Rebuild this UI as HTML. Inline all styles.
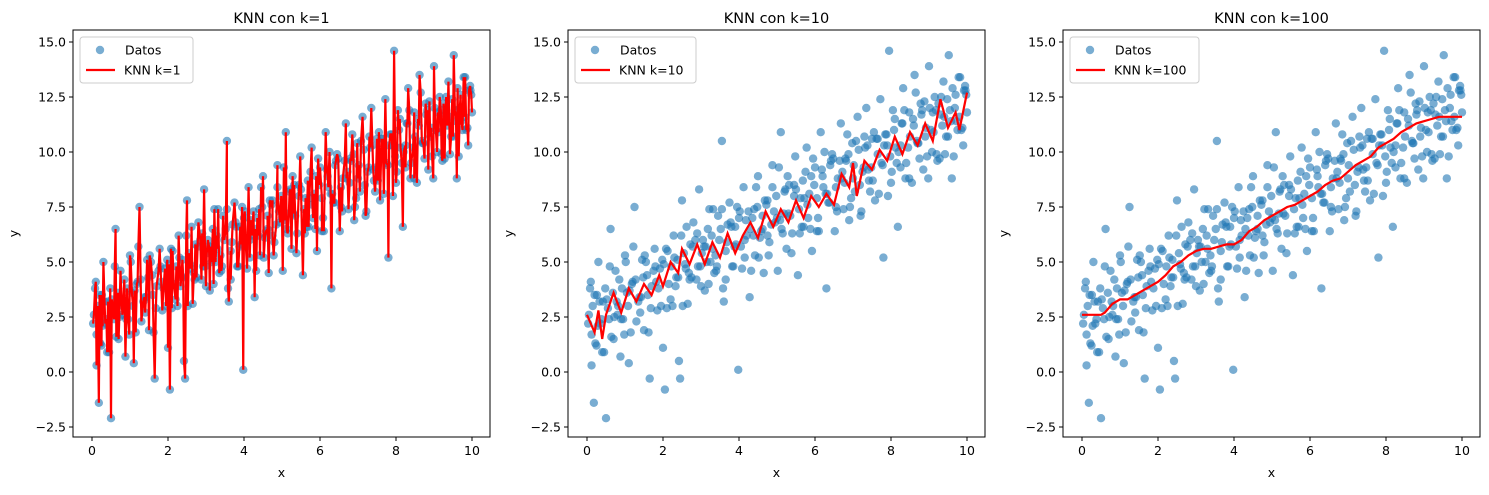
<!DOCTYPE html>
<html><head><meta charset="utf-8"><style>
body{margin:0;background:#fff}
svg text{font-family:"DejaVu Sans","Liberation Sans",sans-serif;fill:#000}
</style></head><body>
<svg id="chart" width="1489" height="490" xmlns="http://www.w3.org/2000/svg"></svg>
<script>
const xTicks=[0,2,4,6,8,10];
const yTicks=[-2.5,0,2.5,5,7.5,10,12.5,15];
const yTickLabels=["\u22122.5","0.0","2.5","5.0","7.5","10.0","12.5","15.0"];
const kValues=[1,10,100];
const dataX1=[0.05,0.1,0.12,0.18,0.2,0.25,0.3,0.35,0.4,0.48,0.5,0.55,0.62,0.7,0.75,0.82,0.88,0.95,1.0,1.05,1.1,1.18,1.25,1.3,1.38,1.45,1.5,1.58,1.65,1.7,1.78,1.85,1.92,2.0,2.05,2.12,2.2,2.28,2.35,2.42,2.45,2.5,2.58,2.65,2.72,2.8,2.88,2.95,3.02,3.1,3.18,3.25,3.32,3.4,3.48,3.55,3.6,3.68,3.75,3.82,3.9,3.98,4.05,4.12,4.2,4.28,4.35,4.42,4.5,4.58,4.65,4.72,4.8,4.88,4.95,5.02,5.1,5.18,5.25,5.32,5.4,5.48,5.55,5.62,5.7,5.78,5.85,5.92,6.0,6.08,6.15,6.22,6.3,6.38,6.45,6.52,6.6,6.68,6.75,6.82,6.9,6.98,7.05,7.12,7.2,7.28,7.35,7.42,7.5,7.58,7.65,7.72,7.8,7.88,7.95,8.02,8.1,8.18,8.25,8.32,8.4,8.48,8.55,8.62,8.7,8.78,8.85,8.92,9.0,9.08,9.15,9.22,9.3,9.38,9.45,9.52,9.6,9.68,9.75,9.82,9.9,9.98];
const dataY1=[2.6,4.1,0.3,-1.4,3.5,1.2,5.0,2.2,0.9,3.8,-2.1,2.9,6.5,1.5,4.6,3.0,0.7,2.4,5.3,3.6,0.4,4.0,7.5,2.3,3.4,5.1,1.9,4.4,-0.3,3.9,5.6,2.8,4.7,1.1,-0.8,5.5,3.3,6.2,4.3,0.5,-0.3,7.8,4.9,3.1,5.8,6.8,4.2,8.3,5.4,3.7,6.5,5.0,7.4,4.6,6.0,10.5,3.2,5.9,7.7,4.8,6.6,0.1,5.7,8.4,6.2,3.4,7.0,5.3,8.9,6.4,4.5,7.6,5.9,9.4,6.8,4.6,10.9,7.2,5.6,8.5,6.3,9.8,4.4,7.9,6.6,10.2,8.1,5.5,9.3,7.0,10.9,8.4,3.8,7.7,9.9,6.4,8.8,11.3,7.4,9.6,6.9,10.4,8.2,11.6,7.1,9.3,12.0,8.7,10.6,7.8,9.9,12.4,5.2,10.8,14.6,9.1,11.5,6.6,10.3,12.9,9.5,11.8,8.6,13.5,10.4,12.2,9.2,11.1,13.9,10.0,12.5,9.6,11.7,13.2,10.7,14.4,8.8,12.0,11.0,13.4,10.3,12.6];
const dataX2=[0.03,0.15,0.28,0.42,0.58,0.68,0.8,0.92,1.08,1.2,1.35,1.48,1.6,1.75,1.88,2.02,2.15,2.3,2.4,2.55,2.68,2.78,2.92,3.05,3.15,3.28,3.38,3.52,3.65,3.78,3.88,4.0,4.15,4.25,4.38,4.48,4.62,4.75,4.85,4.98,5.08,5.2,5.3,5.45,5.58,5.68,5.8,5.9,6.05,6.18,6.28,6.4,6.55,6.65,6.78,6.88,7.0,7.15,7.25,7.38,7.48,7.62,7.75,7.85,7.98,8.08,8.2,8.3,8.45,8.58,8.68,8.8,8.9,9.02,9.12,9.25,9.35,9.48,9.58,9.7,9.8,9.92,10.0];
const dataY2=[2.2,3.0,2.1,3.2,2.4,3.6,2.6,3.8,3.0,4.1,3.2,4.3,3.5,4.6,3.8,4.9,4.0,5.2,4.3,5.4,4.5,5.7,4.8,6.0,5.0,6.2,5.3,6.5,5.5,6.8,5.7,7.0,6.0,7.3,6.2,7.5,6.5,7.8,6.7,8.0,6.9,8.2,7.2,8.5,7.4,8.7,7.6,8.9,7.9,9.2,8.1,9.4,8.4,9.6,8.6,9.9,8.8,10.1,9.1,10.3,9.3,10.6,9.5,10.8,9.8,11.0,10.0,11.3,10.2,11.5,10.5,11.7,10.7,12.0,10.9,12.2,11.2,12.4,11.4,12.6,11.6,12.8,11.8];
const dataX3=[0.08,0.22,0.33,0.45,0.6,0.72,0.85,0.98,1.12,1.22,1.4,1.52,1.62,1.8,1.95,2.08,2.25,2.38,2.52,2.62,2.75,2.9,3.0,3.12,3.22,3.35,3.45,3.58,3.7,3.85,3.95,4.08,4.18,4.32,4.45,4.55,4.68,4.78,4.92,5.05,5.15,5.28,5.38,5.5,5.65,5.75,5.88,5.98,6.1,6.25,6.35,6.48,6.58,6.72,6.85,6.95,7.08,7.22,7.32,7.45,7.55,7.68,7.82,7.92,8.05,8.15,8.28,8.38,8.5,8.65,8.75,8.88,8.98,9.1,9.2,9.32,9.42,9.55,9.65,9.78,9.88,9.95];
const dataY3=[3.8,1.3,3.2,0.9,4.8,2.5,4.2,1.7,3.7,5.7,2.7,5.3,1.8,4.8,3.0,5.6,3.0,5.1,3.0,6.6,4.3,6.3,3.9,5.7,7.4,4.5,7.1,3.8,6.7,4.8,7.5,4.7,6.9,4.6,8.4,6.1,7.8,5.3,7.3,9.3,6.3,8.9,5.4,8.3,6.6,9.1,6.5,8.5,6.4,10.0,7.7,9.7,7.3,9.1,10.8,7.9,10.5,7.3,10.2,8.2,10.9,8.1,10.3,8.0,11.9,9.5,11.3,8.8,10.7,12.7,9.7,12.3,8.8,11.8,9.9,12.5,9.9,11.9,9.8,13.4,11.1,13.0];
const dataX4=[0.12,0.26,0.38,0.52,0.64,0.78,0.9,1.02,1.15,1.28,1.42,1.55,1.68,1.82,1.98,2.1,2.22,2.33,2.48,2.6,2.7,2.85,2.98,3.08,3.2,3.3,3.42,3.55,3.65,3.8,3.92,4.02,4.15,4.3,4.4,4.52,4.62,4.75,4.88,5.0,5.12,5.22,5.35,5.45,5.6,5.72,5.82,5.95,6.05,6.2,6.32,6.42,6.55,6.7,6.8,6.92,7.02,7.18,7.3,7.4,7.52,7.65,7.78,7.9,8.0,8.12,8.25,8.35,8.48,8.6,8.72,8.82,8.95,9.05,9.18,9.28,9.4,9.5,9.62,9.72,9.85,9.96];
const dataY4=[1.7,3.5,2.4,3.3,1.6,3.2,2.4,5.0,1.8,4.2,3.4,5.0,2.9,4.1,5.1,2.9,4.8,3.9,6.2,4.7,4.2,6.0,4.8,5.7,4.0,5.6,4.8,7.4,4.2,6.6,5.8,7.3,5.2,6.5,7.4,5.2,7.1,6.2,8.4,7.0,6.5,8.3,7.1,8.0,6.3,7.9,7.0,9.7,6.4,8.9,8.1,9.6,7.5,8.8,9.7,7.5,9.4,8.5,10.7,9.2,8.7,10.6,9.4,10.3,8.6,10.2,9.3,11.9,8.8,11.2,10.4,11.9,9.8,11.0,11.9,9.7,11.6,10.7,12.9,11.4,11.0,12.8];
const k10X=[0,0.2,0.3,0.4,0.5,0.7,0.9,1.1,1.3,1.5,1.7,1.9,2.0,2.2,2.4,2.5,2.7,2.9,3.1,3.3,3.5,3.7,3.9,4.1,4.3,4.5,4.7,4.9,5.1,5.3,5.5,5.7,5.9,6.1,6.3,6.5,6.7,6.9,7.0,7.1,7.3,7.5,7.7,7.9,8.1,8.3,8.5,8.7,8.9,9.1,9.3,9.5,9.7,9.8,10.0];
const k10Y=[2.6,1.8,2.8,1.5,2.6,3.6,2.7,3.8,3.2,4.0,3.5,4.4,3.9,5.0,4.5,5.6,4.9,5.8,4.9,5.9,5.2,6.3,5.4,6.2,6.8,6.1,7.3,6.6,7.4,6.8,7.8,7.0,8.0,7.5,8.1,7.6,9.0,8.4,9.5,8.0,9.6,9.2,10.1,9.6,10.7,9.9,10.9,10.3,11.3,10.5,12.4,11.1,11.8,11.0,12.7];
const k100X=[0,0.5,0.6,0.8,1.0,1.2,1.4,1.6,1.8,2.0,2.2,2.4,2.6,2.8,3.0,3.2,3.4,3.6,3.8,4.0,4.2,4.4,4.6,4.8,5.0,5.2,5.4,5.6,5.8,6.0,6.2,6.4,6.6,6.8,7.0,7.2,7.4,7.6,7.8,8.0,8.2,8.4,8.6,8.8,9.0,9.2,9.4,9.6,10.0];
const k100Y=[2.6,2.6,2.7,3.1,3.3,3.3,3.5,3.7,3.9,4.1,4.4,4.8,5.0,5.3,5.5,5.6,5.6,5.7,5.8,5.8,6.0,6.4,6.6,6.9,7.1,7.3,7.5,7.6,7.8,8.0,8.2,8.5,8.7,8.8,9.1,9.4,9.6,9.8,10.2,10.4,10.6,10.9,11.1,11.3,11.4,11.5,11.6,11.6,11.6];

const NS="http://www.w3.org/2000/svg";
const svg=document.getElementById('chart');
function mk(tag,attrs,parent){const e=document.createElementNS(NS,tag);for(const k in attrs)e.setAttribute(k,attrs[k]);(parent||svg).appendChild(e);return e;}
const allX=dataX1.concat(dataX2,dataX3,dataX4), allY=dataY1.concat(dataY2,dataY3,dataY4);
const order=allX.map((v,i)=>i).sort((a,b)=>allX[a]-allX[b]);
const k1X=order.map(i=>allX[i]), k1Y=order.map(i=>allY[i]);
const lines=[[k1X,k1Y],[k10X,k10Y],[k100X,k100Y]];
const legW=[113,121,129];

kValues.forEach((k,p)=>{
  const off=p*495, L=73+off, R=490+off, T=30, B=437;
  const sx=v=>92+off+v*38, sy=v=>372-v*22;
  const g=mk('g',{});
  
  
  const t=mk('text',{x:(L+R)/2,y:23,'text-anchor':'middle','font-size':14.5},g);t.textContent='KNN con k='+k;
  
  xTicks.forEach(v=>{mk('line',{x1:sx(v),x2:sx(v),y1:B,y2:B+4,stroke:'#000'},g);
    const tx=mk('text',{x:sx(v),y:B+18,'text-anchor':'middle','font-size':12.5},g);tx.textContent=v;
    });
  yTicks.forEach((v,i)=>{mk('line',{x1:L-4,x2:L,y1:sy(v),y2:sy(v),stroke:'#000'},g);
    const ty=mk('text',{x:L-7,y:sy(v)+4.5,'text-anchor':'end','font-size':12.5},g);ty.textContent=yTickLabels[i];
    });
  const xl=mk('text',{x:(L+R)/2,y:477,'text-anchor':'middle','font-size':12.5},g);xl.textContent='x';
  
  const yl=mk('text',{x:L-55,y:(T+B)/2,'text-anchor':'middle','font-size':12.5,transform:`rotate(-90 ${L-55} ${(T+B)/2})`},g);yl.textContent='y';
  
  const sc=mk('g',{fill:'#1f77b4','fill-opacity':0.6},g);
  
  allX.forEach((v,i)=>{const c=mk('circle',{cx:sx(v),cy:sy(allY[i]),r:4.2},sc);
    });
  const [lx,ly]=lines[p];
  const pl=mk('polyline',{points:lx.map((v,i)=>sx(v)+','+sy(ly[i])).join(' '),fill:'none',stroke:'#ff0000','stroke-width':2.2},g);
  
  mk('rect',{x:L,y:T,width:R-L,height:B-T,fill:'none',stroke:'#000','stroke-width':1},g);
  const lg=mk('g',{},g);
  
  mk('rect',{x:L+7,y:T+7,width:legW[p],height:46,rx:3,fill:'#fff','fill-opacity':0.8,stroke:'#ccc'},lg);
  mk('circle',{cx:L+27,cy:T+20,r:4.2,fill:'#1f77b4','fill-opacity':0.6},lg);
  const d=mk('text',{x:L+52,y:T+24.5,'font-size':12.5},lg);d.textContent='Datos';
  
  mk('line',{x1:L+13,x2:L+42,y1:T+40,y2:T+40,stroke:'#ff0000','stroke-width':2.2},lg);
  const kt=mk('text',{x:L+51,y:T+44.5,'font-size':12.5},lg);kt.textContent='KNN k='+k;
  
});
</script>
</body></html>
